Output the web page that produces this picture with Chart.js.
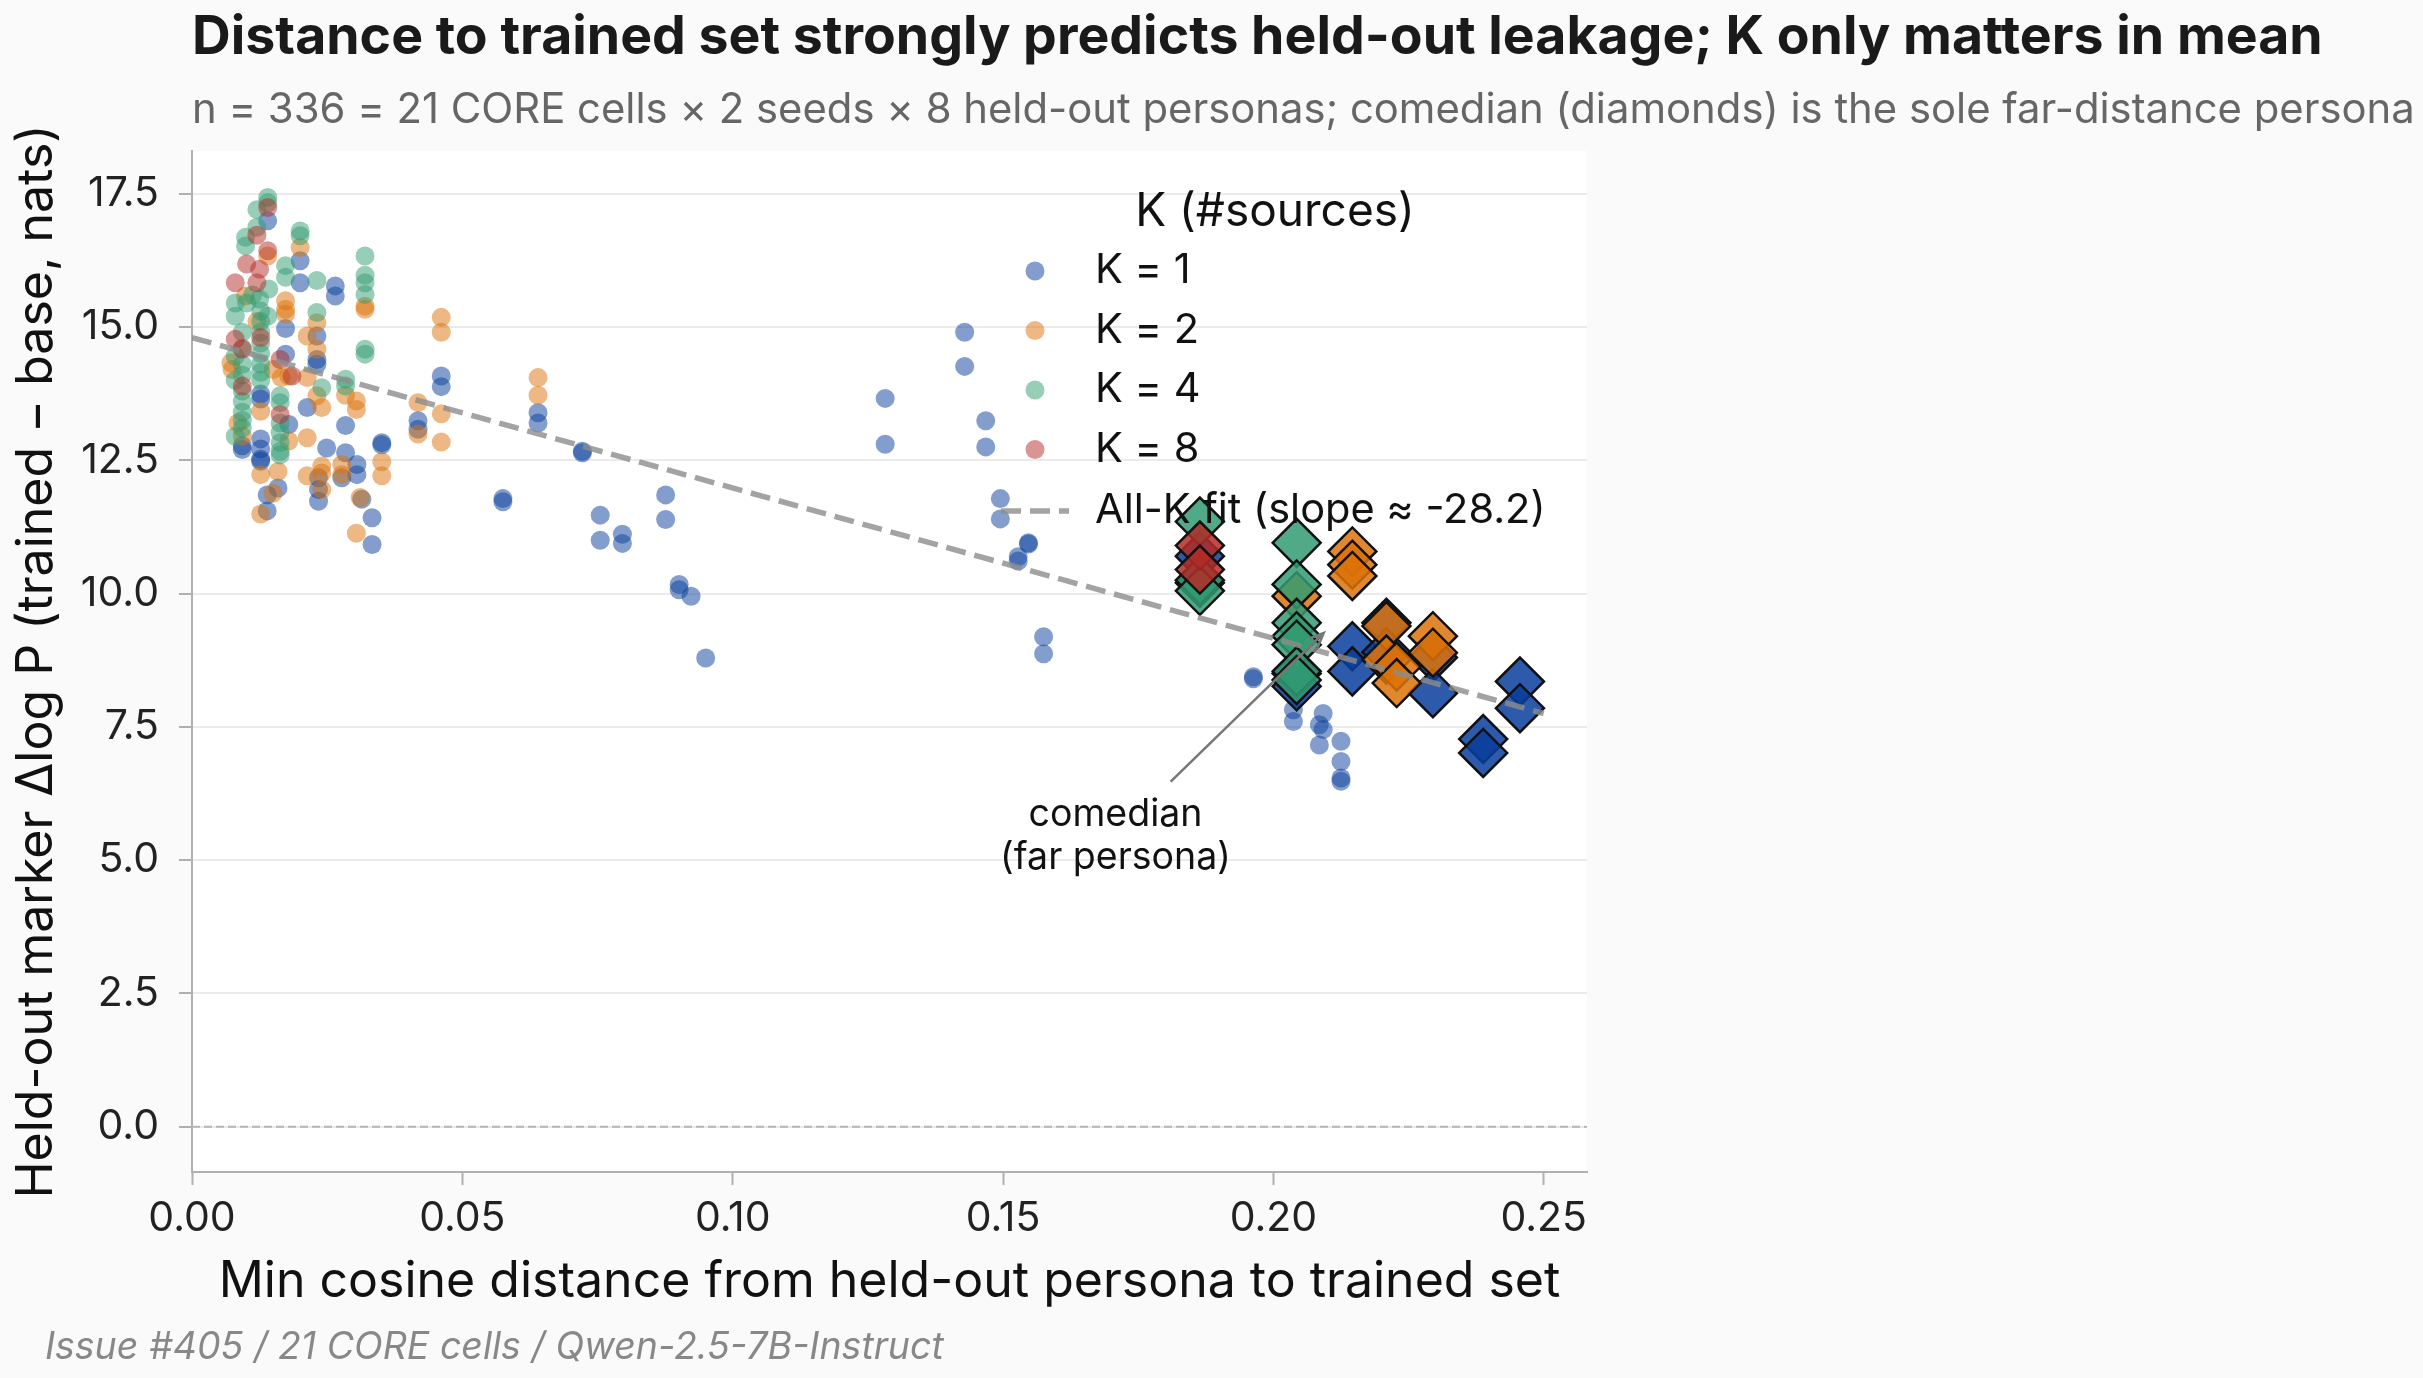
<!DOCTYPE html>
<html lang="en">
<head>
<meta charset="UTF-8">
<title>Held-out leakage vs distance to trained set</title>
<style>
    html, body {
        margin: 0;
        background: #fafafa;
        overflow: hidden;
    }
    #wrap {
        width: 2423px;
        height: 1378px;
    }
</style>
</head>
<body>
<div id="wrap"><canvas id="chart" width="2423" height="1378"></canvas></div>

<script src="https://cdn.jsdelivr.net/npm/chart.js"></script>
<script>
// ---- data: [min cosine distance, held-out marker dlogP] per held-out persona run ----
const k1Points = [
    [0.0140,16.99],[0.0200,16.24],[0.0200,15.83],[0.0265,15.77],[0.0265,15.58],[0.0173,14.97],
    [0.0231,14.83],[0.0231,14.39],[0.0231,14.30],[0.0213,13.49],[0.0284,13.15],[0.0351,12.83],
    [0.0351,12.79],[0.0333,11.42],[0.0333,10.92],[0.0314,11.77],[0.0284,12.64],[0.0305,12.42],
    [0.0305,12.23],[0.0277,12.17],[0.0249,12.73],[0.0234,12.17],[0.0234,11.95],[0.0234,11.73],
    [0.0173,14.49],[0.0179,13.17],[0.0159,11.98],[0.0139,11.85],[0.0139,11.55],[0.0127,12.90],
    [0.0127,12.71],[0.0127,12.52],[0.0127,12.48],[0.0093,12.77],[0.0093,12.70],[0.0127,13.74],
    [0.0127,13.65],[0.0418,13.24],[0.0418,13.08],[0.0461,14.08],[0.0461,13.88],[0.0575,11.78],
    [0.0575,11.72],[0.0640,13.39],[0.0640,13.20],[0.0722,12.67],[0.0722,12.64],[0.0755,11.47],
    [0.0755,11.00],[0.0796,11.11],[0.0796,10.94],[0.0876,11.85],[0.0876,11.39],[0.0901,10.17],
    [0.0901,10.07],[0.0923,9.95],[0.0950,8.79],[0.1282,13.66],[0.1282,12.80],[0.1429,14.90],
    [0.1429,14.26],[0.1468,13.24],[0.1468,12.75],[0.1495,11.78],[0.1495,11.40],[0.1547,10.95],
    [0.1547,10.93],[0.1528,10.69],[0.1528,10.61],[0.1575,9.19],[0.1575,8.87],[0.1963,8.44],
    [0.1963,8.40],[0.2037,7.82],[0.2037,7.60],[0.2092,7.75],[0.2085,7.54],[0.2092,7.45],
    [0.2085,7.16],[0.2125,7.23],[0.2125,6.85],[0.2125,6.54],[0.2125,6.48]
];
const k2Points = [
    [0.0140,16.33],[0.0200,16.49],[0.0320,15.39],[0.0320,15.33],[0.0173,15.49],[0.0173,15.33],
    [0.0173,15.24],[0.0231,15.08],[0.0213,14.83],[0.0231,14.58],[0.0213,14.05],[0.0231,13.71],
    [0.0240,13.49],[0.0304,13.61],[0.0304,13.45],[0.0284,13.72],[0.0351,12.47],[0.0351,12.21],
    [0.0304,11.13],[0.0311,11.80],[0.0277,12.42],[0.0277,12.23],[0.0240,12.39],[0.0240,12.26],
    [0.0240,11.95],[0.0213,12.21],[0.0213,12.92],[0.0150,14.20],[0.0165,14.05],[0.0179,14.08],
    [0.0179,12.86],[0.0159,12.29],[0.0150,11.88],[0.0127,11.49],[0.0127,12.23],[0.0127,13.42],
    [0.0418,13.58],[0.0418,12.99],[0.0461,15.18],[0.0461,14.90],[0.0461,13.37],[0.0461,12.84],
    [0.0640,14.05],[0.0640,13.72],[0.0099,15.58],[0.0072,14.33],[0.0074,14.20],[0.0120,15.10],
    [0.0085,13.20],[0.0093,12.95]
];
const k4Points = [
    [0.0140,17.43],[0.0140,17.33],[0.0120,17.20],[0.0120,16.87],[0.0099,16.68],[0.0099,16.52],
    [0.0142,15.71],[0.0080,15.45],[0.0101,15.45],[0.0125,15.52],[0.0200,16.80],[0.0200,16.71],
    [0.0173,16.15],[0.0173,15.93],[0.0231,15.87],[0.0320,16.33],[0.0320,15.97],[0.0320,15.83],
    [0.0320,15.61],[0.0320,14.58],[0.0320,14.49],[0.0231,15.27],[0.0240,13.86],[0.0284,14.02],
    [0.0284,13.89],[0.0163,13.71],[0.0163,13.58],[0.0163,13.20],[0.0163,13.02],[0.0163,12.83],
    [0.0163,12.67],[0.0163,12.60],[0.0080,12.95],[0.0093,14.90],[0.0093,14.60],[0.0093,14.30],
    [0.0093,14.10],[0.0093,13.80],[0.0093,13.60],[0.0093,13.40],[0.0093,13.25],[0.0093,13.10],
    [0.0080,14.45],[0.0080,14.00],[0.0080,15.20],[0.0127,15.30],[0.0127,15.10],[0.0127,14.90],
    [0.0127,14.70],[0.0127,14.50],[0.0127,14.30],[0.0127,14.15],[0.0127,14.00],[0.0140,15.20],
    [0.0112,15.60]
];
const k8Points = [
    [0.0140,17.24],[0.0120,16.72],[0.0140,16.43],[0.0101,16.18],[0.0125,16.08],[0.0080,15.83],
    [0.0120,15.83],[0.0080,14.77],[0.0093,14.58],[0.0127,14.80],[0.0163,14.39],[0.0093,13.89],
    [0.0163,13.36],[0.0185,14.08]
];

// comedian = the far-distance held-out persona (diamonds)
const k1Comedian = [
    [0.1864,10.70],[0.1864,10.20],[0.2043,8.50],[0.2043,8.26],[0.2146,9.01],[0.2146,8.54],
    [0.2209,9.45],[0.2209,8.90],[0.2295,8.80],[0.2295,8.13],[0.2456,8.35],[0.2456,7.85],
    [0.2388,7.27],[0.2388,7.01]
];
const k2Comedian = [
    [0.2043,9.95],[0.2146,10.79],[0.2146,10.54],[0.2146,10.33],[0.2209,9.39],[0.2209,8.76],
    [0.2228,8.63],[0.2228,8.32],[0.2295,9.20],[0.2295,8.89]
];
const k4Comedian = [
    [0.1864,11.35],[0.1864,10.25],[0.1864,10.05],[0.2043,10.95],[0.2043,10.17],[0.2043,9.45],
    [0.2043,9.20],[0.2043,9.04],[0.2043,8.54],[0.2043,8.38]
];
const k8Comedian = [[0.1864,10.90],[0.1864,10.45]];

const kLabels = ['K = 1', 'K = 2', 'K = 4', 'K = 8'];
const kRgb = ['8,61,155', '220,114,8', '49,155,114', '179,43,38'];

// all-K least-squares fit
const fitSlope = -28.2;
const fitX = [0.0, 0.25];
const fitY = [14.80, 7.75];

const xTicks = [0, 0.05, 0.10, 0.15, 0.20, 0.25];
const yTicks = [0, 2.5, 5, 7.5, 10, 12.5, 15, 17.5];
const xRange = [0, 0.258];
const yRange = [-0.85, 18.3];

// annotation for the comedian persona
const noteText = ['comedian', '(far persona)'];
const noteAt = [0.1708, 5.86];
const arrowFrom = [0.181, 6.47];
const arrowTo = [0.2093, 9.26];

const FONT = 'Inter, "Noto Sans", sans-serif';

function toXY(list) {
    return list.map(p => ({x: p[0], y: p[1]}));
}

function circleSet(i, list, order) {
    return {
        label: kLabels[i],
        data: toXY(list),
        pointStyle: 'circle',
        pointRadius: 9.5,
        pointHoverRadius: 9.5,
        backgroundColor: 'rgba(' + kRgb[i] + ',0.5)',
        borderWidth: 0,
        order: order
    };
}

function diamondSet(i, list, order) {
    return {
        label: kLabels[i] + ' (comedian)',
        data: toXY(list),
        pointStyle: 'rectRot',
        pointRadius: 24,
        pointHoverRadius: 24,
        backgroundColor: 'rgba(' + kRgb[i] + ',0.85)',
        borderColor: '#111',
        borderWidth: 2.5,
        order: order
    };
}

// white plot panel, titles, legend and the annotation arrow
const decor = {
    id: 'decor',
    beforeDraw(chart) {
        const {ctx, chartArea: a} = chart;
        ctx.save();
        ctx.fillStyle = '#ffffff';
        ctx.fillRect(a.left, a.top, a.right - a.left, a.bottom - a.top);
        ctx.restore();
    },
    afterDraw(chart) {
        const {ctx, chartArea: a, scales} = chart;
        ctx.save();

        // title + subtitle
        ctx.textAlign = 'left';
        ctx.textBaseline = 'alphabetic';
        ctx.fillStyle = '#1a1a1a';
        ctx.font = 'bold 53.6px ' + FONT;
        ctx.fillText('Distance to trained set strongly predicts held-out leakage; K only matters in mean', a.left, 54);
        ctx.fillStyle = '#666';
        ctx.font = '41.8px ' + FONT;
        ctx.fillText('n = 336 = 21 CORE cells \u00d7 2 seeds \u00d7 8 held-out personas; comedian (diamonds) is the sole far-distance persona', a.left, 123);

        // footer
        ctx.fillStyle = '#888';
        ctx.font = 'italic 37.5px ' + FONT;
        ctx.fillText('Issue #405 / 21 CORE cells / Qwen-2.5-7B-Instruct', 45, 1359);

        // annotation arrow
        const x0 = scales.x.getPixelForValue(arrowFrom[0]), y0 = scales.y.getPixelForValue(arrowFrom[1]);
        const x1 = scales.x.getPixelForValue(arrowTo[0]), y1 = scales.y.getPixelForValue(arrowTo[1]);
        ctx.strokeStyle = '#777';
        ctx.lineWidth = 2.5;
        ctx.beginPath();
        ctx.moveTo(x0, y0);
        ctx.lineTo(x1, y1);
        const ang = Math.atan2(y1 - y0, x1 - x0);
        const head = 16;
        ctx.moveTo(x1 - head * Math.cos(ang - 0.4), y1 - head * Math.sin(ang - 0.4));
        ctx.lineTo(x1, y1);
        ctx.lineTo(x1 - head * Math.cos(ang + 0.4), y1 - head * Math.sin(ang + 0.4));
        ctx.stroke();

        // annotation text
        const nx = scales.x.getPixelForValue(noteAt[0]);
        const ny = scales.y.getPixelForValue(noteAt[1]);
        ctx.fillStyle = '#111';
        ctx.font = '37.5px ' + FONT;
        ctx.textAlign = 'center';
        ctx.textBaseline = 'middle';
        noteText.forEach((t, i) => ctx.fillText(t, nx, ny + i * 43));

        // legend (no frame, upper right of the panel)
        const lx = a.right - 552;
        const ly = a.top + 120;
        const step = 59.5;
        ctx.font = '46px ' + FONT;
        ctx.fillStyle = '#111';
        ctx.fillText('K (#sources)', a.right - 312, a.top + 61);
        ctx.font = '41.5px ' + FONT;
        ctx.textAlign = 'left';
        kLabels.forEach((lab, i) => {
            const y = ly + i * step;
            ctx.fillStyle = 'rgba(' + kRgb[i] + ',0.5)';
            ctx.beginPath();
            ctx.arc(lx, y, 9.5, 0, Math.PI * 2);
            ctx.fill();
            ctx.fillStyle = '#111';
            ctx.fillText(lab, lx + 60, y);
        });
        const fy = ly + 4 * step + 2;
        ctx.strokeStyle = 'rgba(140,140,140,0.8)';
        ctx.lineWidth = 5.5;
        ctx.setLineDash([20, 9]);
        ctx.beginPath();
        ctx.moveTo(lx - 34, fy);
        ctx.lineTo(lx + 34, fy);
        ctx.stroke();
        ctx.setLineDash([]);
        ctx.fillStyle = '#111';
        ctx.fillText('All-K fit (slope \u2248 ' + fitSlope.toFixed(1) + ')', lx + 60, fy);

        ctx.restore();
    }
};

function draw() {
    const datasets = [
        {
            label: 'zero',
            data: [{x: xRange[0], y: 0}, {x: xRange[1], y: 0}],
            showLine: true,
            borderColor: '#b5b5b5',
            borderWidth: 2,
            borderDash: [8, 4],
            pointRadius: 0,
            order: 10
        },
        circleSet(0, k1Points, 9),
        circleSet(1, k2Points, 8),
        circleSet(2, k4Points, 7),
        circleSet(3, k8Points, 6),
        diamondSet(0, k1Comedian, 5),
        diamondSet(1, k2Comedian, 4),
        diamondSet(2, k4Comedian, 3),
        diamondSet(3, k8Comedian, 2),
        {
            label: 'All-K fit',
            data: fitX.map((x, i) => ({x: x, y: fitY[i]})),
            showLine: true,
            borderColor: 'rgba(140,140,140,0.8)',
            borderWidth: 5.5,
            borderDash: [20, 9],
            pointRadius: 0,
            order: 0
        }
    ];

    new Chart(document.getElementById('chart'), {
        type: 'scatter',
        data: {datasets: datasets},
        options: {
            responsive: false,
            animation: false,
            devicePixelRatio: 1,
            layout: {padding: {top: 151, right: 836, bottom: 60, left: 0}},
            plugins: {
                legend: {display: false},
                tooltip: {enabled: false}
            },
            scales: {
                x: {
                    type: 'linear',
                    min: xRange[0],
                    max: xRange[1],
                    afterBuildTicks: axis => { axis.ticks = xTicks.map(v => ({value: v})); },
                    afterFit: scale => { scale.height = 146; },
                    ticks: {
                        callback: v => v.toFixed(2),
                        font: {family: FONT, size: 41},
                        color: '#222',
                        padding: 9,
                        maxRotation: 0,
                        autoSkip: false
                    },
                    grid: {drawOnChartArea: false, tickLength: 13, tickColor: '#b0b0b0', tickWidth: 2},
                    border: {color: '#b0b0b0', width: 2},
                    title: {
                        display: true,
                        text: 'Min cosine distance from held-out persona to trained set',
                        font: {family: FONT, size: 50},
                        color: '#111',
                        padding: {top: 0, bottom: 6}
                    }
                },
                y: {
                    min: yRange[0],
                    max: yRange[1],
                    afterBuildTicks: axis => { axis.ticks = yTicks.map(v => ({value: v})); },
                    afterFit: scale => { scale.width = 192; },
                    ticks: {
                        callback: v => v.toFixed(1),
                        font: {family: FONT, size: 41},
                        color: '#222',
                        padding: 20,
                        autoSkip: false
                    },
                    grid: {color: '#ebebeb', lineWidth: 2, tickLength: 13, tickColor: '#b0b0b0', tickWidth: 2},
                    border: {color: '#b0b0b0', width: 2},
                    title: {
                        display: true,
                        text: 'Held-out marker \u0394log P (trained \u2212 base, nats)',
                        font: {family: FONT, size: 50},
                        color: '#111',
                        padding: {top: 7, bottom: 0}
                    }
                }
            }
        },
        plugins: [decor]
    });
}

Promise.all([
    document.fonts.load('41px Inter'),
    document.fonts.load('bold 53.6px Inter'),
    document.fonts.load('italic 37.5px Inter')
]).then(draw, draw);
</script>
</body>
</html>
